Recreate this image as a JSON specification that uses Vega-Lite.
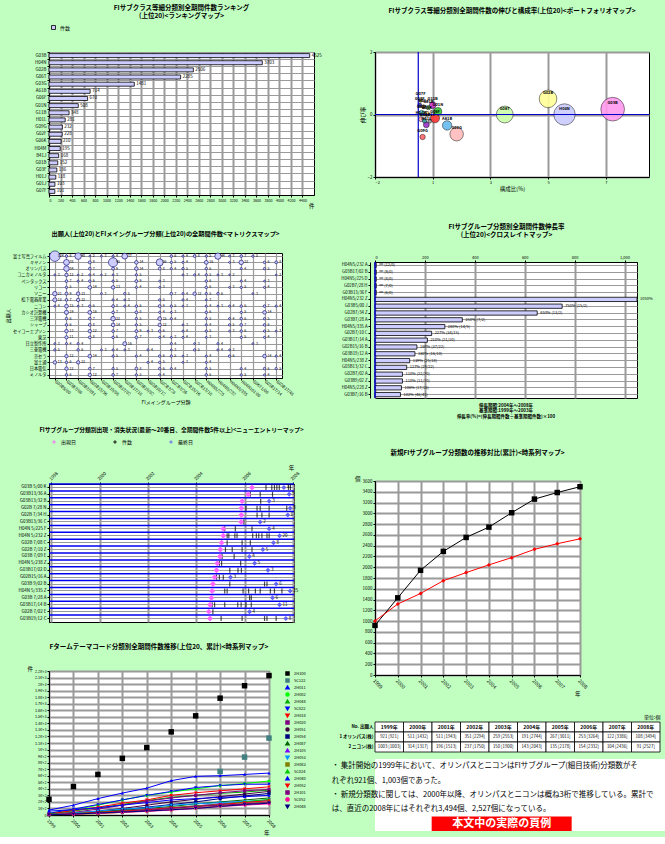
{
"$schema": "https://vega.github.io/schema/vega-lite/v6.json",
"background": "#c0ffc0",
"padding": {"left": 4, "top": 4, "right": 0, "bottom": 0},
"datasets": {
"p1": [{"code":"G03B","v":4525},{"code":"H04N","v":3703},{"code":"G02B","v":2506},{"code":"G06T","v":2285},{"code":"G03G","v":1481},{"code":"A61B","v":714},{"code":"G06F","v":670},{"code":"G01N","v":508},{"code":"G11B","v":348},{"code":"H01L","v":281},{"code":"G09G","v":232},{"code":"G02F","v":228},{"code":"G06K","v":210},{"code":"H04M","v":195},{"code":"B41J","v":168},{"code":"G01B","v":152},{"code":"G03F","v":136},{"code":"H01J","v":118},{"code":"G01J","v":103},{"code":"G07F","v":101}],
"p2": [{"c":"G03B","x":6.74,"y":0.17,"n":4525},{"c":"H04N","x":5.07,"y":0.0,"n":3703},{"c":"G02B","x":4.5,"y":0.5,"n":2506},{"c":"G06T","x":3.0,"y":0.0,"n":2285},{"c":"G03G","x":1.33,"y":-0.63,"n":1481},{"c":"A61B","x":1.0,"y":-0.35,"n":714},{"c":"G06F","x":0.58,"y":-0.12,"n":670},{"c":"G01N","x":0.68,"y":0.1,"n":508},{"c":"G11B","x":0.5,"y":0.3,"n":348},{"c":"H01L","x":0.28,"y":-0.33,"n":281},{"c":"G09G","x":0.15,"y":-0.72,"n":232},{"c":"G02F","x":0.12,"y":0.05,"n":228},{"c":"G06K","x":0.3,"y":0.02,"n":210},{"c":"H04M","x":0.1,"y":-0.15,"n":195},{"c":"B41J","x":0.22,"y":-0.2,"n":168},{"c":"G01B","x":0.35,"y":0.22,"n":152},{"c":"G03F","x":0.05,"y":0.3,"n":136},{"c":"H01J","x":0.18,"y":0.25,"n":118},{"c":"G01J","x":0.4,"y":-0.22,"n":103},{"c":"G07F","x":0.08,"y":0.45,"n":101}],
"co": [{"r":1,"co":"富士写真フイルム"},{"r":2,"co":"キヤノン"},{"r":3,"co":"オリンパス"},{"r":4,"co":"コニカミノルタ"},{"r":5,"co":"ペンタックス"},{"r":6,"co":"リコー"},{"r":7,"co":"ソニー"},{"r":8,"co":"松下電器産業"},{"r":9,"co":"ニコン"},{"r":10,"co":"カシオ計算機"},{"r":11,"co":"三洋電機"},{"r":12,"co":"シャープ"},{"r":13,"co":"セイコーエプソン"},{"r":14,"co":"東芝"},{"r":15,"co":"日立製作所"},{"r":16,"co":"三菱電機"},{"r":17,"co":"京セラ"},{"r":18,"co":"富士通"},{"r":19,"co":"日本電気"},{"r":20,"co":"ミノルタ"}],
"fi": [{"c":1,"fi":"G03B5/00"},{"c":2,"fi":"G03B7/08"},{"c":3,"fi":"G03B7/091"},{"c":4,"fi":"G03B13/36"},{"c":5,"fi":"G03B15/05"},{"c":6,"fi":"G03B17/02"},{"c":7,"fi":"G03B17/18"},{"c":8,"fi":"G03B19/02"},{"c":9,"fi":"G03B19/12"},{"c":10,"fi":"G02B7/28"},{"c":11,"fi":"G02B7/36"},{"c":12,"fi":"G02B15/16"},{"c":13,"fi":"G02B13/18"},{"c":14,"fi":"H04N5/225"},{"c":15,"fi":"H04N5/232"},{"c":16,"fi":"H04N5/335"},{"c":17,"fi":"H04N101:00"},{"c":18,"fi":"G06T1/00"},{"c":19,"fi":"G03B17/14"},{"c":20,"fi":"G03B17/48"}],
"p3": [
{"r":1,"c":1,"n":124},{"r":1,"c":2,"n":6},{"r":1,"c":3,"n":48},{"r":1,"c":4,"n":2},{"r":1,"c":5,"n":3},{"r":1,"c":6,"n":4},{"r":1,"c":7,"n":37},{"r":1,"c":11,"n":6},{"r":1,"c":12,"n":4},{"r":1,"c":13,"n":8},{"r":1,"c":14,"n":5},{"r":1,"c":15,"n":44},{"r":1,"c":16,"n":3},{"r":1,"c":17,"n":7},{"r":1,"c":18,"n":5},
{"r":2,"c":2,"n":38},{"r":2,"c":4,"n":9},{"r":2,"c":6,"n":95},{"r":2,"c":8,"n":14},{"r":2,"c":10,"n":56},{"r":2,"c":11,"n":5},{"r":2,"c":12,"n":4},{"r":2,"c":14,"n":16},{"r":2,"c":16,"n":3},{"r":2,"c":17,"n":22},{"r":2,"c":19,"n":6},{"r":2,"c":20,"n":8},
{"r":3,"c":2,"n":34},{"r":3,"c":4,"n":7},{"r":3,"c":6,"n":9},{"r":3,"c":8,"n":14},{"r":3,"c":10,"n":8},{"r":3,"c":11,"n":4},{"r":3,"c":12,"n":5},{"r":3,"c":14,"n":6},{"r":3,"c":17,"n":4},{"r":3,"c":19,"n":5},
{"r":4,"c":1,"n":3},{"r":4,"c":2,"n":12},{"r":4,"c":3,"n":2},{"r":4,"c":4,"n":4},{"r":4,"c":5,"n":2},{"r":4,"c":6,"n":3},{"r":4,"c":8,"n":5},{"r":4,"c":12,"n":3},{"r":4,"c":13,"n":4},{"r":4,"c":14,"n":5},{"r":4,"c":15,"n":3},{"r":4,"c":16,"n":2},{"r":4,"c":20,"n":2},
{"r":5,"c":2,"n":7},{"r":5,"c":3,"n":4},{"r":5,"c":4,"n":6},{"r":5,"c":6,"n":5},{"r":5,"c":8,"n":9},{"r":5,"c":10,"n":3},{"r":5,"c":14,"n":6},{"r":5,"c":17,"n":4},{"r":5,"c":19,"n":3},
{"r":6,"c":2,"n":5},{"r":6,"c":4,"n":14},{"r":6,"c":6,"n":13},{"r":6,"c":8,"n":4},{"r":6,"c":10,"n":3},{"r":6,"c":14,"n":6},{"r":6,"c":16,"n":3},{"r":6,"c":17,"n":5},{"r":6,"c":19,"n":4},
{"r":7,"c":1,"n":21},{"r":7,"c":2,"n":9},{"r":7,"c":3,"n":13},{"r":7,"c":5,"n":3},{"r":7,"c":7,"n":5},{"r":7,"c":11,"n":7},{"r":7,"c":12,"n":4},{"r":7,"c":13,"n":12},{"r":7,"c":14,"n":5},{"r":7,"c":15,"n":6},{"r":7,"c":18,"n":3},
{"r":8,"c":1,"n":18},{"r":8,"c":2,"n":7},{"r":8,"c":3,"n":12},{"r":8,"c":6,"n":4},{"r":8,"c":7,"n":3},{"r":8,"c":10,"n":5},{"r":8,"c":12,"n":4},{"r":8,"c":14,"n":3},
{"r":9,"c":1,"n":4},{"r":9,"c":2,"n":15},{"r":9,"c":3,"n":3},{"r":9,"c":4,"n":6},{"r":9,"c":6,"n":8},{"r":9,"c":7,"n":4},{"r":9,"c":8,"n":6},{"r":9,"c":10,"n":9},{"r":9,"c":11,"n":5},{"r":9,"c":12,"n":3},{"r":9,"c":14,"n":4},{"r":9,"c":15,"n":3},{"r":9,"c":16,"n":4},{"r":9,"c":17,"n":6},{"r":9,"c":19,"n":7},{"r":9,"c":20,"n":4},
{"r":10,"c":2,"n":19},{"r":10,"c":4,"n":16},{"r":10,"c":6,"n":7},{"r":10,"c":8,"n":8},{"r":10,"c":10,"n":4},{"r":10,"c":11,"n":3},{"r":10,"c":14,"n":6},{"r":10,"c":17,"n":5},{"r":10,"c":19,"n":14},
{"r":11,"c":2,"n":6},{"r":11,"c":4,"n":7},{"r":11,"c":6,"n":22},{"r":11,"c":8,"n":5},{"r":11,"c":10,"n":15},{"r":11,"c":11,"n":4},{"r":11,"c":14,"n":5},{"r":11,"c":16,"n":4},{"r":11,"c":17,"n":6},{"r":11,"c":19,"n":5},
{"r":12,"c":2,"n":6},{"r":12,"c":4,"n":8},{"r":12,"c":6,"n":14},{"r":12,"c":8,"n":5},{"r":12,"c":10,"n":12},{"r":12,"c":12,"n":3},{"r":12,"c":14,"n":4},{"r":12,"c":16,"n":5},{"r":12,"c":17,"n":7},{"r":12,"c":19,"n":6},
{"r":13,"c":2,"n":13},{"r":13,"c":4,"n":12},{"r":13,"c":6,"n":7},{"r":13,"c":8,"n":9},{"r":13,"c":9,"n":3},{"r":13,"c":10,"n":6},{"r":13,"c":12,"n":4},{"r":13,"c":14,"n":5},{"r":13,"c":16,"n":3},{"r":13,"c":17,"n":6},{"r":13,"c":19,"n":5},{"r":13,"c":20,"n":3},
{"r":14,"c":2,"n":11},{"r":14,"c":4,"n":8},{"r":14,"c":6,"n":6},{"r":14,"c":8,"n":7},{"r":14,"c":10,"n":4},{"r":14,"c":11,"n":3},{"r":14,"c":12,"n":4},{"r":14,"c":14,"n":3},{"r":14,"c":17,"n":5},{"r":14,"c":19,"n":4},
{"r":15,"c":1,"n":3},{"r":15,"c":2,"n":4},{"r":15,"c":3,"n":4},{"r":15,"c":7,"n":16},{"r":15,"c":11,"n":4},{"r":15,"c":13,"n":3},{"r":15,"c":15,"n":4},{"r":15,"c":18,"n":3},
{"r":16,"c":1,"n":5},{"r":16,"c":3,"n":6},{"r":16,"c":5,"n":3},{"r":16,"c":6,"n":4},{"r":16,"c":7,"n":3},{"r":16,"c":9,"n":4},{"r":16,"c":11,"n":3},{"r":16,"c":13,"n":5},{"r":16,"c":15,"n":4},{"r":16,"c":16,"n":3},
{"r":17,"c":2,"n":12},{"r":17,"c":4,"n":14},{"r":17,"c":6,"n":5},{"r":17,"c":8,"n":4},{"r":17,"c":10,"n":6},{"r":17,"c":11,"n":5},{"r":17,"c":12,"n":3},{"r":17,"c":14,"n":4},{"r":17,"c":16,"n":6},{"r":17,"c":19,"n":14},{"r":17,"c":20,"n":4},
{"r":18,"c":1,"n":13},{"r":18,"c":2,"n":6},{"r":18,"c":3,"n":12},{"r":18,"c":9,"n":4},{"r":18,"c":10,"n":5},{"r":18,"c":12,"n":3},{"r":18,"c":14,"n":4},
{"r":19,"c":2,"n":12},{"r":19,"c":4,"n":7},{"r":19,"c":6,"n":5},{"r":19,"c":8,"n":8},{"r":19,"c":10,"n":6},{"r":19,"c":11,"n":4},{"r":19,"c":14,"n":5},{"r":19,"c":17,"n":4},{"r":19,"c":19,"n":6},{"r":19,"c":20,"n":5},
{"r":20,"c":2,"n":6},{"r":20,"c":4,"n":12},{"r":20,"c":6,"n":7},{"r":20,"c":8,"n":5},{"r":20,"c":10,"n":4},{"r":20,"c":14,"n":6},{"r":20,"c":17,"n":5},{"r":20,"c":19,"n":4}],
"p4": [{"r":1,"lab":"G03B 5/00 K","s":2006.31,"e":2007.63,"n":11},{"r":2,"lab":"G03B13/36 A","s":2006.15,"e":2007.85,"n":5},{"r":3,"lab":"G03B13/32 B","s":2005.9,"e":2007.02,"n":3},{"r":4,"lab":"G02B 7/28 N","s":2005.87,"e":2007.89,"n":8},{"r":5,"lab":"G02B 7/34 H","s":2005.87,"e":2007.79,"n":6},{"r":6,"lab":"G03B13/36 C","s":2005.86,"e":2006.65,"n":2},{"r":7,"lab":"H04N 5/225 F","s":2005.12,"e":2007.02,"n":4},{"r":8,"lab":"H04N 5/232 Z","s":2005.12,"e":2007.45,"n":20},{"r":9,"lab":"G02B 7/08 C","s":2005.05,"e":2007.2,"n":8},{"r":10,"lab":"G02B 7/10 Z","s":2005.0,"e":2006.76,"n":5},{"r":11,"lab":"G03B 7/09 E","s":2004.98,"e":2006.2,"n":4},{"r":12,"lab":"H04N 5/238 Z","s":2004.87,"e":2006.42,"n":5},{"r":13,"lab":"G03B17/02 D","s":2004.84,"e":2006.97,"n":3},{"r":14,"lab":"G02B15/16 A","s":2004.76,"e":2005.42,"n":3},{"r":15,"lab":"G03B 9/02 B","s":2004.69,"e":2007.31,"n":6},{"r":16,"lab":"H04N 5/335 Z","s":2004.66,"e":2007.89,"n":25},{"r":17,"lab":"G03B 7/28 A","s":2004.63,"e":2007.16,"n":6},{"r":18,"lab":"G03B17/14 B","s":2004.57,"e":2007.45,"n":11},{"r":19,"lab":"G02B 7/02 E","s":2004.52,"e":2006.21,"n":4},{"r":20,"lab":"G03B19/12 C","s":2004.57,"e":2007.71,"n":8}],
"p4t": [{"r":1,"t":2006.89},{"r":1,"t":2007.13},{"r":1,"t":2007.24},{"r":1,"t":2007.34},{"r":1,"t":2007.44},{"r":1,"t":2007.82},{"r":1,"t":2007.9},
{"r":2,"t":2006.24},{"r":2,"t":2006.65},{"r":2,"t":2007.16},
{"r":3,"t":2006.67},
{"r":4,"t":2006.06},{"r":4,"t":2006.52},{"r":4,"t":2006.65},{"r":4,"t":2007.02},{"r":4,"t":2007.75},
{"r":5,"t":2006.52},{"r":5,"t":2006.72},{"r":5,"t":2007.02},
{"r":6,"t":2005.97},
{"r":7,"t":2005.18},{"r":7,"t":2005.62},{"r":7,"t":2006.31},
{"r":8,"t":2005.28},{"r":8,"t":2005.35},{"r":8,"t":2005.6},{"r":8,"t":2005.69},{"r":8,"t":2006.34},{"r":8,"t":2006.49},{"r":8,"t":2006.59},{"r":8,"t":2006.72},{"r":8,"t":2006.93},{"r":8,"t":2007.02},
{"r":9,"t":2005.28},{"r":9,"t":2005.9},{"r":9,"t":2006.24},
{"r":10,"t":2005.21},{"r":10,"t":2005.49},{"r":10,"t":2005.9},{"r":10,"t":2006.31},
{"r":11,"t":2005.07},{"r":11,"t":2005.57},
{"r":12,"t":2004.96},{"r":12,"t":2005.05},{"r":12,"t":2005.84},
{"r":13,"t":2005.39},{"r":13,"t":2005.73},{"r":13,"t":2005.87},
{"r":14,"t":2004.84},{"r":14,"t":2004.96},{"r":14,"t":2005.12},
{"r":15,"t":2005.39},{"r":15,"t":2006.83},{"r":15,"t":2006.93},
{"r":16,"t":2005.18},{"r":16,"t":2005.28},{"r":16,"t":2005.94},{"r":16,"t":2006.17},{"r":16,"t":2006.45},{"r":16,"t":2006.65},{"r":16,"t":2007.07},{"r":16,"t":2007.24},{"r":16,"t":2007.55},
{"r":17,"t":2006.21},{"r":17,"t":2006.28},
{"r":18,"t":2004.66},{"r":18,"t":2004.76},{"r":18,"t":2005.18},{"r":18,"t":2005.72},{"r":18,"t":2005.86},{"r":18,"t":2006.06},{"r":18,"t":2006.28},
{"r":19,"t":2004.69},
{"r":20,"t":2005.03},{"r":20,"t":2005.9},{"r":20,"t":2006.83},{"r":20,"t":2006.93},{"r":20,"t":2007.31}],
"p5": [
{"s":"2H100","t":1999,"v":240},{"s":"2H100","t":2000,"v":435},{"s":"2H100","t":2001,"v":620},{"s":"2H100","t":2002,"v":865},{"s":"2H100","t":2003,"v":1030},{"s":"2H100","t":2004,"v":1270},{"s":"2H100","t":2005,"v":1515},{"s":"2H100","t":2006,"v":1785},{"s":"2H100","t":2007,"v":1975},{"s":"2H100","t":2008,"v":2130},
{"s":"5C122","t":2006,"v":665},{"s":"5C122","t":2007,"v":885},{"s":"5C122","t":2008,"v":1175},
{"s":"2H011","t":1999,"v":75},{"s":"2H011","t":2000,"v":150},{"s":"2H011","t":2001,"v":250},{"s":"2H011","t":2002,"v":335},{"s":"2H011","t":2003,"v":410},{"s":"2H011","t":2004,"v":525},{"s":"2H011","t":2005,"v":590},{"s":"2H011","t":2006,"v":600},{"s":"2H011","t":2007,"v":620},{"s":"2H011","t":2008,"v":640},
{"s":"2H002","t":1999,"v":30},{"s":"2H002","t":2000,"v":80},{"s":"2H002","t":2001,"v":150},{"s":"2H002","t":2002,"v":230},{"s":"2H002","t":2003,"v":300},{"s":"2H002","t":2004,"v":350},{"s":"2H002","t":2005,"v":400},{"s":"2H002","t":2006,"v":450},{"s":"2H002","t":2007,"v":480},{"s":"2H002","t":2008,"v":520},
{"s":"2H044","t":1999,"v":20},{"s":"2H044","t":2000,"v":60},{"s":"2H044","t":2001,"v":110},{"s":"2H044","t":2002,"v":160},{"s":"2H044","t":2003,"v":220},{"s":"2H044","t":2004,"v":270},{"s":"2H044","t":2005,"v":300},{"s":"2H044","t":2006,"v":330},{"s":"2H044","t":2007,"v":350},{"s":"2H044","t":2008,"v":380},
{"s":"5C022","t":1999,"v":25},{"s":"5C022","t":2000,"v":90},{"s":"5C022","t":2001,"v":160},{"s":"5C022","t":2002,"v":230},{"s":"5C022","t":2003,"v":300},{"s":"5C022","t":2004,"v":360},{"s":"5C022","t":2005,"v":420},{"s":"5C022","t":2006,"v":450},{"s":"5C022","t":2007,"v":470},{"s":"5C022","t":2008,"v":470},
{"s":"2H018","t":1999,"v":15},{"s":"2H018","t":2000,"v":70},{"s":"2H018","t":2001,"v":120},{"s":"2H018","t":2002,"v":180},{"s":"2H018","t":2003,"v":230},{"s":"2H018","t":2004,"v":300},{"s":"2H018","t":2005,"v":340},{"s":"2H018","t":2006,"v":370},{"s":"2H018","t":2007,"v":400},{"s":"2H018","t":2008,"v":430},
{"s":"2H020","t":1999,"v":10},{"s":"2H020","t":2000,"v":40},{"s":"2H020","t":2001,"v":90},{"s":"2H020","t":2002,"v":150},{"s":"2H020","t":2003,"v":210},{"s":"2H020","t":2004,"v":260},{"s":"2H020","t":2005,"v":300},{"s":"2H020","t":2006,"v":340},{"s":"2H020","t":2007,"v":370},{"s":"2H020","t":2008,"v":390},
{"s":"2H051","t":1999,"v":10},{"s":"2H051","t":2000,"v":30},{"s":"2H051","t":2001,"v":60},{"s":"2H051","t":2002,"v":100},{"s":"2H051","t":2003,"v":150},{"s":"2H051","t":2004,"v":200},{"s":"2H051","t":2005,"v":240},{"s":"2H051","t":2006,"v":280},{"s":"2H051","t":2007,"v":320},{"s":"2H051","t":2008,"v":360},
{"s":"2H054","t":1999,"v":5},{"s":"2H054","t":2000,"v":20},{"s":"2H054","t":2001,"v":50},{"s":"2H054","t":2002,"v":80},{"s":"2H054","t":2003,"v":120},{"s":"2H054","t":2004,"v":160},{"s":"2H054","t":2005,"v":200},{"s":"2H054","t":2006,"v":250},{"s":"2H054","t":2007,"v":290},{"s":"2H054","t":2008,"v":330},
{"s":"2H087","t":1999,"v":20},{"s":"2H087","t":2000,"v":30},{"s":"2H087","t":2001,"v":50},{"s":"2H087","t":2002,"v":70},{"s":"2H087","t":2003,"v":100},{"s":"2H087","t":2004,"v":130},{"s":"2H087","t":2005,"v":170},{"s":"2H087","t":2006,"v":200},{"s":"2H087","t":2007,"v":230},{"s":"2H087","t":2008,"v":260},
{"s":"2H105","t":1999,"v":5},{"s":"2H105","t":2000,"v":15},{"s":"2H105","t":2001,"v":30},{"s":"2H105","t":2002,"v":60},{"s":"2H105","t":2003,"v":90},{"s":"2H105","t":2004,"v":110},{"s":"2H105","t":2005,"v":140},{"s":"2H105","t":2006,"v":170},{"s":"2H105","t":2007,"v":200},{"s":"2H105","t":2008,"v":220},
{"s":"2H053","t":1999,"v":5},{"s":"2H053","t":2000,"v":30},{"s":"2H053","t":2001,"v":60},{"s":"2H053","t":2002,"v":90},{"s":"2H053","t":2003,"v":110},{"s":"2H053","t":2004,"v":150},{"s":"2H053","t":2005,"v":170},{"s":"2H053","t":2006,"v":190},{"s":"2H053","t":2007,"v":210},{"s":"2H053","t":2008,"v":230},
{"s":"2H083","t":1999,"v":5},{"s":"2H083","t":2000,"v":10},{"s":"2H083","t":2001,"v":20},{"s":"2H083","t":2002,"v":40},{"s":"2H083","t":2003,"v":60},{"s":"2H083","t":2004,"v":80},{"s":"2H083","t":2005,"v":110},{"s":"2H083","t":2006,"v":140},{"s":"2H083","t":2007,"v":170},{"s":"2H083","t":2008,"v":200},
{"s":"5C024","t":1999,"v":10},{"s":"5C024","t":2000,"v":20},{"s":"5C024","t":2001,"v":40},{"s":"5C024","t":2002,"v":60},{"s":"5C024","t":2003,"v":80},{"s":"5C024","t":2004,"v":110},{"s":"5C024","t":2005,"v":140},{"s":"5C024","t":2006,"v":160},{"s":"5C024","t":2007,"v":200},{"s":"5C024","t":2008,"v":240},
{"s":"2H040","t":1999,"v":60},{"s":"2H040","t":2000,"v":80},{"s":"2H040","t":2001,"v":110},{"s":"2H040","t":2002,"v":150},{"s":"2H040","t":2003,"v":190},{"s":"2H040","t":2004,"v":230},{"s":"2H040","t":2005,"v":250},{"s":"2H040","t":2006,"v":270},{"s":"2H040","t":2007,"v":280},{"s":"2H040","t":2008,"v":300},
{"s":"2H052","t":1999,"v":5},{"s":"2H052","t":2000,"v":20},{"s":"2H052","t":2001,"v":40},{"s":"2H052","t":2002,"v":60},{"s":"2H052","t":2003,"v":80},{"s":"2H052","t":2004,"v":110},{"s":"2H052","t":2005,"v":130},{"s":"2H052","t":2006,"v":160},{"s":"2H052","t":2007,"v":190},{"s":"2H052","t":2008,"v":220},
{"s":"2H101","t":1999,"v":5},{"s":"2H101","t":2000,"v":15},{"s":"2H101","t":2001,"v":30},{"s":"2H101","t":2002,"v":50},{"s":"2H101","t":2003,"v":70},{"s":"2H101","t":2004,"v":100},{"s":"2H101","t":2005,"v":130},{"s":"2H101","t":2006,"v":150},{"s":"2H101","t":2007,"v":170},{"s":"2H101","t":2008,"v":190},
{"s":"5C052","t":1999,"v":10},{"s":"5C052","t":2000,"v":15},{"s":"5C052","t":2001,"v":25},{"s":"5C052","t":2002,"v":40},{"s":"5C052","t":2003,"v":55},{"s":"5C052","t":2004,"v":75},{"s":"5C052","t":2005,"v":100},{"s":"5C052","t":2006,"v":130},{"s":"5C052","t":2007,"v":150},{"s":"5C052","t":2008,"v":170},
{"s":"2H048","t":1999,"v":5},{"s":"2H048","t":2000,"v":15},{"s":"2H048","t":2001,"v":30},{"s":"2H048","t":2002,"v":45},{"s":"2H048","t":2003,"v":60},{"s":"2H048","t":2004,"v":80},{"s":"2H048","t":2005,"v":100},{"s":"2H048","t":2006,"v":130},{"s":"2H048","t":2007,"v":160},{"s":"2H048","t":2008,"v":180}],
"p6": [{"r":1,"lab":"H04N5/232 A","v":5,"t":"∞ (12/0)"},{"r":2,"lab":"G03B17/02 B","v":5,"t":"∞ (9/0)"},{"r":3,"lab":"H04N5/225 D","v":5,"t":"∞ (8/0)"},{"r":4,"lab":"G02B7/28 H","v":5,"t":"∞ (7/0)"},{"r":5,"lab":"G03B13/36 F","v":5,"t":"∞ (6/0)"},{"r":6,"lab":"H04N5/232 Z","v":1050,"t":"1050%"},{"r":7,"lab":"G03B5/00 J","v":750,"t":"750% (15/2)"},{"r":8,"lab":"G02B7/34 Z","v":650,"t":"650% (13/2)"},{"r":9,"lab":"G03B7/28 A","v":350,"t":"350% (7/2)"},{"r":10,"lab":"H04N5/335 A","v":280,"t":"280% (14/5)"},{"r":11,"lab":"G02B7/10 C","v":227,"t":"227% (34/15)"},{"r":12,"lab":"G03B17/14 A","v":210,"t":"210% (21/10)"},{"r":13,"lab":"G02B15/16 B","v":168,"t":"168% (37/22)"},{"r":14,"lab":"G03B19/12 A","v":160,"t":"160% (16/10)"},{"r":15,"lab":"H04N5/238 Z","v":139,"t":"139% (25/18)"},{"r":16,"lab":"G03B13/32 C","v":127,"t":"127% (28/22)"},{"r":17,"lab":"G02B7/02 A","v":110,"t":"110% (22/20)"},{"r":18,"lab":"G03B9/02 Z","v":110,"t":"110% (11/10)"},{"r":19,"lab":"H04N5/228 Z","v":106,"t":"106% (17/16)"},{"r":20,"lab":"G03B7/16 B","v":102,"t":"102% (46/45)"}],
"p7": [{"a":"オリンパス(株)","yr":1999,"v":921},{"a":"オリンパス(株)","yr":2000,"v":1432},{"a":"オリンパス(株)","yr":2001,"v":1943},{"a":"オリンパス(株)","yr":2002,"v":2294},{"a":"オリンパス(株)","yr":2003,"v":2553},{"a":"オリンパス(株)","yr":2004,"v":2744},{"a":"オリンパス(株)","yr":2005,"v":3011},{"a":"オリンパス(株)","yr":2006,"v":3264},{"a":"オリンパス(株)","yr":2007,"v":3386},{"a":"オリンパス(株)","yr":2008,"v":3494},
{"a":"ニコン(株)","yr":1999,"v":1003},{"a":"ニコン(株)","yr":2000,"v":1317},{"a":"ニコン(株)","yr":2001,"v":1513},{"a":"ニコン(株)","yr":2002,"v":1750},{"a":"ニコン(株)","yr":2003,"v":1900},{"a":"ニコン(株)","yr":2004,"v":2043},{"a":"ニコン(株)","yr":2005,"v":2178},{"a":"ニコン(株)","yr":2006,"v":2332},{"a":"ニコン(株)","yr":2007,"v":2436},{"a":"ニコン(株)","yr":2008,"v":2527}],
"tbl": [
{"rw":"No.  出願人","col":"1999年","t":"1999年"},{"rw":"No.  出願人","col":"2000年","t":"2000年"},{"rw":"No.  出願人","col":"2001年","t":"2001年"},{"rw":"No.  出願人","col":"2002年","t":"2002年"},{"rw":"No.  出願人","col":"2003年","t":"2003年"},{"rw":"No.  出願人","col":"2004年","t":"2004年"},{"rw":"No.  出願人","col":"2005年","t":"2005年"},{"rw":"No.  出願人","col":"2006年","t":"2006年"},{"rw":"No.  出願人","col":"2007年","t":"2007年"},{"rw":"No.  出願人","col":"2008年","t":"2008年"},
{"rw":"1  オリンパス(株)","col":"1999年","t":"921 [921]"},{"rw":"1  オリンパス(株)","col":"2000年","t":"511 [1432]"},{"rw":"1  オリンパス(株)","col":"2001年","t":"511 [1943]"},{"rw":"1  オリンパス(株)","col":"2002年","t":"351 [2294]"},{"rw":"1  オリンパス(株)","col":"2003年","t":"259 [2553]"},{"rw":"1  オリンパス(株)","col":"2004年","t":"191 [2744]"},{"rw":"1  オリンパス(株)","col":"2005年","t":"267 [3011]"},{"rw":"1  オリンパス(株)","col":"2006年","t":"253 [3264]"},{"rw":"1  オリンパス(株)","col":"2007年","t":"122 [3386]"},{"rw":"1  オリンパス(株)","col":"2008年","t":"108 [3494]"},
{"rw":"2  ニコン(株)","col":"1999年","t":"1003 [1003]"},{"rw":"2  ニコン(株)","col":"2000年","t":"314 [1317]"},{"rw":"2  ニコン(株)","col":"2001年","t":"196 [1513]"},{"rw":"2  ニコン(株)","col":"2002年","t":"237 [1750]"},{"rw":"2  ニコン(株)","col":"2003年","t":"150 [1900]"},{"rw":"2  ニコン(株)","col":"2004年","t":"143 [2043]"},{"rw":"2  ニコン(株)","col":"2005年","t":"135 [2178]"},{"rw":"2  ニコン(株)","col":"2006年","t":"154 [2332]"},{"rw":"2  ニコン(株)","col":"2007年","t":"104 [2436]"},{"rw":"2  ニコン(株)","col":"2008年","t":"91 [2527]"}],
"notes": [{"i":1,"t":"・ 集計開始の1999年において、オリンパスとニコンはFIサブグループ(細目技術)分類数がそ"},{"i":2,"t":"れぞれ921個、1,003個であった。"},{"i":3,"t":"・ 新規分類数に関しては、2000年以降、オリンパスとニコンは概ね3桁で推移している。累計で"},{"i":4,"t":"は、直近の2008年にはそれぞれ3,494個、2,527個になっている。"}],
"redbox": [{"i":5,"t":"本文中の実際の頁例"}]
},
"spacing": 8,
"resolve": {"scale": {"color": "independent", "shape": "independent", "size": "independent"}, "legend": {"color": "independent", "shape": "independent", "size": "independent"}},
"hconcat": [
{"spacing": 20,
 "resolve": {"scale": {"color": "independent", "shape": "independent", "size": "independent"}, "legend": {"color": "independent", "shape": "independent", "size": "independent"}},
 "vconcat": [
 {"width": 265, "height": 143,
  "title": {"text": ["FIサブクラス等細分類別全期間件数ランキング", "(上位20)<ランキングマップ>"], "lineHeight": 8},
  "data": {"name": "p1"},
  "encoding": {
   "y": {"field": "code", "type": "nominal", "sort": {"field": "v", "op": "max", "order": "descending"}, "axis": {"title": null, "grid": true, "bandPosition": 0, "labelFontSize": 4.5}},
   "x": {"field": "v", "type": "quantitative", "scale": {"domain": [0, 4600], "nice": false}, "axis": {"values": [0,200,400,600,800,1000,1200,1400,1600,1800,2000,2200,2400,2600,2800,3000,3200,3400,3600,3800,4000,4200,4400], "format": "d", "title": "件", "titleAnchor": "end", "labelFontSize": 3.6, "labelOverlap": false, "grid": true, "gridWidth": 2}}
  },
  "layer": [
   {"mark": {"type": "bar", "fill": "#ccccff", "stroke": "black", "strokeWidth": 0.8, "height": {"band": 0.62}},
    "encoding": {"color": {"datum": "件数", "type": "nominal", "scale": {"range": ["#ccccff"]}, "legend": {"orient": "top", "title": null, "symbolType": "square", "symbolStrokeColor": "black", "symbolStrokeWidth": 0.8, "labelFontSize": 5}}}},
   {"mark": {"type": "text", "align": "left", "dx": 2, "fontSize": 4.5}, "encoding": {"text": {"field": "v", "type": "quantitative", "format": "d"}}}
  ]
 },
 {"width": 233, "height": 125,
  "title": {"text": "出願人(上位20)とFIメイングループ分類(上位20)の全期間件数<マトリクスマップ>", "offset": 12, "fontSize": 6.2},
  "data": {"name": "p3"},
  "transform": [
   {"lookup": "r", "from": {"data": {"name": "co"}, "key": "r", "fields": ["co"]}},
   {"lookup": "c", "from": {"data": {"name": "fi"}, "key": "c", "fields": ["fi"]}}
  ],
  "encoding": {
   "x": {"field": "fi", "type": "nominal", "sort": {"field": "c", "op": "min"}, "axis": {"title": "FIメイングループ分類", "labelAngle": 40, "labelAlign": "left", "labelBaseline": "middle", "grid": true, "labelFontSize": 4.2, "titleFontSize": 5}},
   "y": {"field": "co", "type": "nominal", "sort": {"field": "r", "op": "min"}, "axis": {"title": "出願人", "grid": true, "labelFontSize": 4.2, "titleFontSize": 5}}
  },
  "layer": [
   {"mark": {"type": "circle", "fill": "#ccccff", "stroke": "#000066", "strokeWidth": 0.6, "opacity": 1}, "encoding": {"size": {"field": "n", "type": "quantitative", "scale": {"domain": [0, 124], "range": [1, 110]}, "legend": null}}},
   {"mark": {"type": "text", "align": "left", "dx": 3, "fontSize": 3.5}, "encoding": {"text": {"field": "n", "type": "quantitative", "format": "d"}}}
  ]
 },
 {"width": 245, "height": 138,
  "title": {"text": "FIサブグループ分類別出現・消失状況(最新～20番目、全期間件数5件以上)<ニューエントリーマップ>", "fontSize": 5.8},
  "layer": [
   {"data": {"name": "p4"}, "mark": {"type": "rule", "color": "#0000ee", "strokeWidth": 1.5},
    "encoding": {"y": {"field": "lab", "type": "nominal", "bandPosition": 0, "scale": {"type": "band", "paddingInner": 0, "paddingOuter": 0, "domain": ["G03B 5/00 K","G03B13/36 A","G03B13/32 B","G02B 7/28 N","G02B 7/34 H","G03B13/36 C","H04N 5/225 F","H04N 5/232 Z","G02B 7/08 C","G02B 7/10 Z","G03B 7/09 E","H04N 5/238 Z","G03B17/02 D","G02B15/16 A","G03B 9/02 B","H04N 5/335 Z","G03B 7/28 A","G03B17/14 B","G02B 7/02 E","G03B19/12 C"]}, "axis": {"title": null, "grid": true, "labelFontSize": 4.5, "minExtent": 40}}}},
   {"data": {"name": "p4t"}, "transform": [{"lookup": "r", "from": {"data": {"name": "p4"}, "key": "r", "fields": ["lab"]}}],
    "mark": {"type": "tick", "orient": "vertical", "thickness": 1.2, "size": 5},
    "encoding": {"x": {"field": "t", "type": "quantitative", "scale": {"domain": [1997.9, 2008.05], "nice": false, "zero": false}, "axis": {"orient": "top", "values": [1998,1999,2000,2001,2002,2003,2004,2005,2006,2007,2008], "format": "d", "labelAngle": -45, "labelAlign": "left", "title": "年", "titleX": 242, "titleY": -14, "titleAlign": "center", "grid": true, "gridWidth": 2, "labelFontSize": 4.5}},
     "y": {"field": "lab", "type": "nominal"},
     "color": {"datum": "件数", "type": "nominal", "scale": {"domain": ["出現日", "件数", "最終日"], "range": ["#ff66ff", "#000000", "#6666ee"]}, "legend": {"orient": "top", "title": null, "direction": "horizontal", "symbolType": "diamond", "labelFontSize": 5, "columnPadding": 35}}}},
   {"data": {"name": "p4"}, "mark": {"type": "point", "shape": "diamond", "filled": true, "size": 35, "opacity": 1},
    "encoding": {"x": {"field": "s", "type": "quantitative"}, "y": {"field": "lab", "type": "nominal"}, "color": {"datum": "出現日", "type": "nominal"}}},
   {"data": {"name": "p4"}, "mark": {"type": "point", "shape": "diamond", "filled": true, "size": 25, "opacity": 1},
    "encoding": {"x": {"field": "e", "type": "quantitative"}, "y": {"field": "lab", "type": "nominal"}, "color": {"datum": "最終日", "type": "nominal"}}},
   {"data": {"name": "p4"}, "mark": {"type": "text", "align": "left", "dx": 3, "fontSize": 4.5},
    "encoding": {"x": {"field": "e", "type": "quantitative"}, "y": {"field": "lab", "type": "nominal"}, "text": {"field": "n", "type": "quantitative", "format": "d"}}}
  ]
 },
 {"width": 220, "height": 144,
  "title": {"text": "Fタームテーマコード分類別全期間件数推移(上位20、累計)<時系列マップ>", "offset": 16},
  "data": {"name": "p5"},
  "encoding": {
   "x": {"field": "t", "type": "quantitative", "scale": {"domain": [1999, 2008], "nice": false, "zero": false}, "axis": {"values": [1999,2000,2001,2002,2003,2004,2005,2006,2007,2008], "format": "d", "labelAngle": 45, "labelAlign": "left", "title": "年", "titleAnchor": "end", "grid": true, "gridWidth": 2, "labelFontSize": 4.5}},
   "y": {"field": "v", "type": "quantitative", "scale": {"domain": [0, 2200], "nice": false}, "axis": {"values": [0,100,200,300,400,500,600,700,800,900,1000,1100,1200,1300,1400,1500,1600,1700,1800,1900,2000,2100,2200], "format": ",", "title": "件", "titleAngle": 0, "titleAnchor": "end", "grid": true, "gridWidth": 2, "labelFontSize": 3.8}},
   "color": {"field": "s", "type": "nominal", "scale": {"domain": ["2H100","5C122","2H011","2H002","2H044","5C022","2H018","2H020","2H051","2H054","2H087","2H105","2H053","2H083","5C024","2H040","2H052","2H101","5C052","2H048"], "range": ["#000000","#408080","#0000ff","#00ff00","#00b000","#0000ff","#ff0000","#800080","#400040","#000080","#006600","#8000ff","#0099ff","#808000","#00cc00","#0000ff","#ff0000","#800080","#ff0099","#000080"]}, "legend": {"title": null, "orient": "right", "labelFontSize": 4, "symbolSize": 9, "rowPadding": -2, "offset": 14, "padding": 0}}
  },
  "layer": [
   {"transform": [{"filter": "datum.s != '2H100' && datum.s != '5C122'"}], "mark": {"type": "line", "strokeWidth": 1}},
   {"mark": {"type": "point", "filled": true, "opacity": 1},
    "encoding": {"shape": {"field": "s", "type": "nominal", "scale": {"domain": ["2H100","5C122","2H011","2H002","2H044","5C022","2H018","2H020","2H051","2H054","2H087","2H105","2H053","2H083","5C024","2H040","2H052","2H101","5C052","2H048"], "range": ["square","square","triangle-up","circle","triangle-up","triangle-down","triangle-down","square","circle","square","triangle-up","triangle-up","triangle-down","square","triangle-up","triangle-up","triangle-down","square","cross","triangle-down"]}, "legend": {"title": null, "orient": "right", "labelFontSize": 4, "symbolSize": 9, "rowPadding": -2, "offset": 14, "padding": 0}},
     "size": {"condition": {"test": "datum.s == '2H100' || datum.s == '5C122'", "value": 30}, "value": 10}}}
  ]
 }
]},
{"spacing": 30,
 "resolve": {"scale": {"color": "independent", "shape": "independent", "size": "independent"}, "legend": {"color": "independent", "shape": "independent", "size": "independent"}},
 "vconcat": [
 {"width": 274, "height": 125,
  "title": {"text": "FIサブクラス等細分類別全期間件数の伸びと構成率(上位20)<ポートフォリオマップ>", "offset": 35},
  "data": {"name": "p2"},
  "layer": [
   {"mark": {"type": "circle", "stroke": "black", "strokeWidth": 0.5, "opacity": 0.9},
    "encoding": {
     "x": {"field": "x", "type": "quantitative", "scale": {"domain": [-1.5, 8], "nice": false, "zero": false}, "axis": {"values": [-1.5,-1,-0.5,0,0.5,1,1.5,2,2.5,3,3.5,4,4.5,5,5.5,6,6.5,7,7.5,8], "title": "構成比(%)", "grid": true, "gridWidth": 2, "labelFontSize": 4}},
     "y": {"field": "y", "type": "quantitative", "scale": {"domain": [-2, 2], "nice": false}, "axis": {"values": [-2,-1,0,1,2], "title": "伸び率", "grid": true, "gridWidth": 2, "labelFontSize": 4.5}},
     "size": {"field": "n", "type": "quantitative", "scale": {"domain": [0, 4525], "range": [0, 560]}, "legend": null},
     "color": {"field": "c", "type": "nominal", "scale": {"domain": ["G03B","H04N","G02B","G06T","G03G","A61B","G06F","G01N","G11B","H01L","G09G","G02F","G06K","H04M","B41J","G01B","G03F","H01J","G01J","G07F"], "range": ["#ff99ee","#ccccff","#ffff99","#ccffaa","#ffbbbb","#66bbee","#ff3333","#33cc33","#cc33cc","#9933cc","#ff6666","#66ffff","#ffcc66","#ffaacc","#339999","#66cc66","#333399","#996633","#999999","#999933"]}, "legend": null}
    }},
   {"data": {"values": [{}]}, "mark": {"type": "rule", "color": "#0000cc", "strokeWidth": 1.2}, "encoding": {"x": {"datum": 0, "type": "quantitative"}}},
   {"data": {"values": [{}]}, "mark": {"type": "rule", "color": "#0000cc", "strokeWidth": 1.2}, "encoding": {"y": {"datum": 0, "type": "quantitative"}}},
   {"mark": {"type": "text", "dy": -6, "fontSize": 4, "fontWeight": "bold"},
    "encoding": {"x": {"field": "x", "type": "quantitative"}, "y": {"field": "y", "type": "quantitative"}, "text": {"field": "c"}}}
  ]
 },
 {"width": 262, "height": 136,
  "title": {"text": ["伸長期間:2004年～2008年", "基準期間:1999年～2003年", "伸長率(%)=(伸長期間件数÷基準期間件数)×100"], "orient": "bottom", "fontSize": 4.5, "lineHeight": 5.5, "offset": 4},
  "data": {"name": "p6"},
  "layer": [
   {"mark": {"type": "bar", "fill": "#ccccff", "stroke": "black", "strokeWidth": 0.8, "height": {"band": 0.7}},
    "encoding": {
     "y": {"field": "lab", "type": "nominal", "sort": {"field": "r", "op": "min"}, "axis": {"title": null, "offset": 5, "grid": true, "labelFontSize": 4.3}},
     "x": {"field": "v", "type": "quantitative", "scale": {"domain": [0, 1050], "nice": false}, "axis": {"orient": "top", "values": [0,100,200,300,400,500,600,700,800,900,1000], "title": ["FIサブグループ分類別全期間件数伸長率", "(上位20)<クロスレイトマップ>"], "titleFontSize": 6.5, "titleFontWeight": "bold", "titleLineHeight": 8, "titlePadding": 18, "grid": true, "gridWidth": 2, "labelFontSize": 4}}
    }},
   {"data": {"values": [{}]}, "mark": {"type": "rule", "color": "#0000cc", "strokeWidth": 1.5}, "encoding": {"x": {"datum": 0, "type": "quantitative"}}},
   {"mark": {"type": "text", "align": "left", "dx": 3, "fontSize": 4},
    "encoding": {"y": {"field": "lab", "type": "nominal", "sort": {"field": "r", "op": "min"}}, "x": {"field": "v", "type": "quantitative"}, "text": {"field": "t"}}}
  ]
 },
 {"spacing": 16,
  "vconcat": [
  {"width": 205, "height": 194,
   "title": {"text": "新規FIサブグループ分類数の推移対比(累計)<時系列マップ>", "offset": 20},
   "data": {"name": "p7"},
   "encoding": {
    "x": {"field": "yr", "type": "quantitative", "scale": {"domain": [1999, 2008], "nice": false, "zero": false}, "axis": {"values": [1999,2000,2001,2002,2003,2004,2005,2006,2007,2008], "format": "d", "labelAngle": 45, "labelAlign": "left", "title": "年", "titleAnchor": "end", "grid": true, "gridWidth": 2, "labelFontSize": 5}},
    "y": {"field": "v", "type": "quantitative", "scale": {"domain": [0, 3600], "nice": false}, "axis": {"values": [0,200,400,600,800,1000,1200,1400,1600,1800,2000,2200,2400,2600,2800,3000,3200,3400,3600], "format": "d", "title": "個", "titleAngle": 0, "titleAnchor": "end", "grid": true, "gridWidth": 2, "labelFontSize": 4.5}},
    "color": {"field": "a", "type": "nominal", "scale": {"domain": ["オリンパス(株)", "ニコン(株)"], "range": ["#000000", "#ff0000"]}, "legend": {"title": null, "orient": "right", "offset": 10, "labelFontSize": 5, "symbolSize": 18}}
   },
   "layer": [
    {"mark": {"type": "line", "strokeWidth": 1}},
    {"mark": {"type": "point", "filled": true, "opacity": 1},
     "encoding": {"shape": {"field": "a", "type": "nominal", "scale": {"domain": ["オリンパス(株)", "ニコン(株)"], "range": ["square", "diamond"]}, "legend": {"title": null, "orient": "right", "offset": 10, "labelFontSize": 5, "symbolSize": 18}},
      "size": {"condition": {"test": "datum.a == 'オリンパス(株)'", "value": 30}, "value": 16}}}
   ]
  },
  {"spacing": 6,
   "vconcat": [
   {"width": 285, "height": 30,
    "title": {"text": "単位:個", "anchor": "end", "fontSize": 5, "fontWeight": "normal", "offset": 2},
    "view": {"fill": "white", "stroke": null},
    "data": {"name": "tbl"},
    "encoding": {
     "x": {"field": "col", "type": "ordinal", "axis": null},
     "y": {"field": "rw", "type": "ordinal", "sort": ["No.  出願人", "1  オリンパス(株)", "2  ニコン(株)"], "axis": {"title": null, "domain": false, "ticks": false, "labelFontSize": 4.5, "labelFontWeight": "bold", "labelPadding": 2}}
    },
    "layer": [
     {"mark": {"type": "rect", "fill": "white", "stroke": "black", "strokeWidth": 0.8}},
     {"transform": [{"filter": "datum.rw == 'No.  出願人'"}], "mark": {"type": "text", "fontSize": 5, "fontWeight": "bold"}, "encoding": {"text": {"field": "t"}}},
     {"transform": [{"filter": "datum.rw != 'No.  出願人'"}], "mark": {"type": "text", "fontSize": 4.3}, "encoding": {"text": {"field": "t"}}}
    ]
   },
   {"width": 290, "height": 72,
    "view": {"fill": "white", "stroke": null},
    "layer": [
     {"data": {"name": "notes"}, "mark": {"type": "text", "align": "left", "fontSize": 7.5, "baseline": "middle"},
      "encoding": {"x": {"datum": 0, "type": "quantitative", "scale": {"domain": [0.13, 1], "nice": false, "zero": false}, "axis": null}, "y": {"field": "i", "type": "ordinal", "axis": null}, "text": {"field": "t"}}},
     {"data": {"name": "redbox"}, "mark": {"type": "rect", "fill": "#ff0000"},
      "encoding": {"x": {"datum": 0.3, "type": "quantitative"}, "x2": {"datum": 0.72}, "y": {"field": "i", "type": "ordinal"}}},
     {"data": {"name": "redbox"}, "mark": {"type": "text", "fill": "white", "fontSize": 11, "fontWeight": "bold"},
      "encoding": {"x": {"datum": 0.51, "type": "quantitative"}, "y": {"field": "i", "type": "ordinal"}, "text": {"field": "t"}}}
    ]
   }
  ]}
 ]}
]}
],
"config": {
 "font": "Noto Sans CJK JP",
 "view": {"fill": "white", "stroke": "black", "strokeWidth": 1},
 "title": {"fontSize": 6.5, "fontWeight": "bold", "offset": 4, "color": "black"},
 "axis": {"labelFontSize": 4.5, "titleFontSize": 5.5, "titleFontWeight": "normal", "gridColor": "#9a9a9a", "gridWidth": 1.2, "domainColor": "black", "tickColor": "black", "tickSize": 2, "labelPadding": 1, "titlePadding": 2, "labelColor": "black", "titleColor": "black"},
 "legend": {"labelFontSize": 4.5, "symbolSize": 16, "rowPadding": 1, "padding": 2, "labelColor": "black"}
}
}
